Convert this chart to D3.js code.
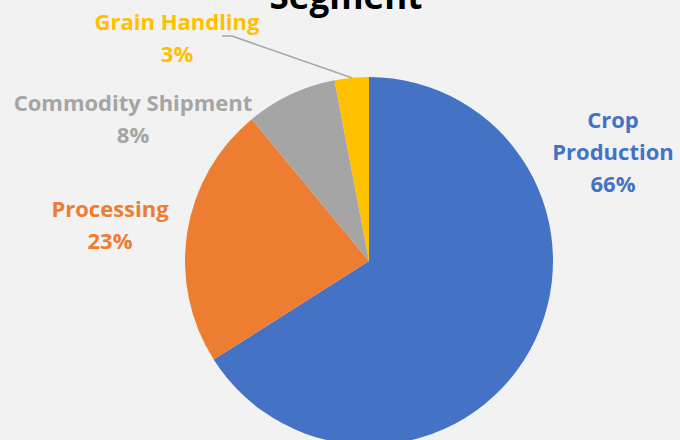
<!DOCTYPE html>
<html>
<head>
<meta charset="utf-8">
<script src="https://cdn.jsdelivr.net/npm/d3@7"></script>
<style>
  body { margin: 0; background: #f2f2f2; }
  svg { display: block; font-family: "Open Sans", "DejaVu Sans", sans-serif; }
</style>
</head>
<body>
<svg class="chart"></svg>
<script>
// data
const segments = ["Crop Production", "Processing", "Commodity Shipment", "Grain Handling"];
const shares = [66, 23, 8, 3];
const colors = ["#4472c4", "#ed7d31", "#a5a5a5", "#ffc000"];
const title = "Segment";

const canvas = {width: 680, height: 440};
const center = {x: 369, y: 261};
const radius = 184;

// label anchors (centre x, baseline of first line), one per segment
const labelPos = [
    {x: 613, y: 128, lines: ["Crop", "Production"]},
    {x: 110, y: 217, lines: ["Processing"]},
    {x: 133, y: 111, lines: ["Commodity Shipment"]},
    {x: 177, y: 30,  lines: ["Grain Handling"]}
];
const lineGap = 32;

const svg = d3.select(".chart")
    .attr("width", canvas.width)
    .attr("height", canvas.height);

svg.append("rect")
    .attr("width", canvas.width)
    .attr("height", canvas.height)
    .attr("fill", "#f2f2f2");

const pie = d3.pie().sort(null).value(function (d) { return d; });
const arc = d3.arc().innerRadius(0).outerRadius(radius);
const arcs = pie(shares);

const chart = svg.append("g")
    .attr("transform", "translate(" + center.x + "," + center.y + ")");

chart.selectAll(".slice")
    .data(arcs)
    .enter()
    .append("path")
    .classed("slice", true)
    .attr("d", arc)
    .attr("fill", function (d, i) { return colors[i]; });

// leader line for the small slice
const small = arcs[3];
const midA = (small.startAngle + small.endAngle) / 2;
const edge = [center.x + Math.sin(midA) * radius, center.y - Math.cos(midA) * radius];
svg.append("polyline")
    .attr("points", [[222, 36], [232, 36], edge].map(function (p) { return p.join(","); }).join(" "))
    .attr("fill", "none")
    .attr("stroke", "#a6a6a6")
    .attr("stroke-width", 1.5);

// labels
const labels = svg.selectAll(".slice-label")
    .data(arcs)
    .enter()
    .append("text")
    .classed("slice-label", true)
    .attr("text-anchor", "middle")
    .attr("font-size", 22)
    .attr("font-weight", "bold")
    .attr("fill", function (d, i) { return colors[i]; });

labels.each(function (d, i) {
    const t = d3.select(this);
    const pos = labelPos[i];
    const lines = pos.lines.concat([shares[i] + "%"]);
    lines.forEach(function (s, k) {
        t.append("tspan")
            .attr("x", pos.x)
            .attr("y", pos.y + k * lineGap)
            .text(s);
    });
});

svg.append("text")
    .attr("x", 346)
    .attr("y", 9)
    .attr("text-anchor", "middle")
    .attr("font-size", 35)
    .attr("font-weight", "bold")
    .attr("fill", "#000")
    .text(title);
</script>
</body>
</html>
